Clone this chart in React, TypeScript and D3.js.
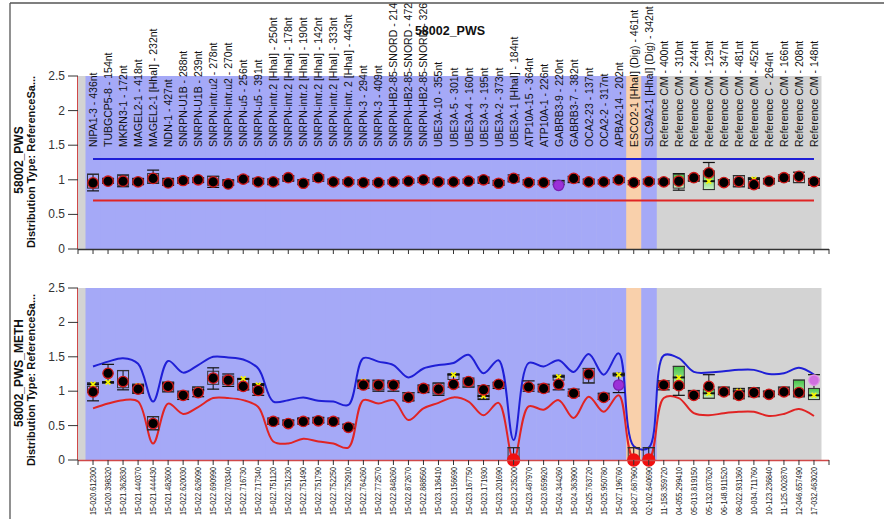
import React from 'react';
import * as d3 from 'd3';

// probe names (top labels) and positions (bottom labels)
const probes = [
  'NIPA1-3 - 436nt', 'TUBGCP5-8 - 154nt', 'MKRN3-1 - 172nt', 'MAGEL2-1 - 418nt', 'MAGEL2-1 [HhaI] - 232nt',
  'NDN-1 - 427nt', 'SNRPN-U1B - 288nt', 'SNRPN-U1B - 239nt', 'SNRPN-intr.u2 - 278nt', 'SNRPN-intr.u2 - 270nt',
  'SNRPN-u5 - 256nt', 'SNRPN-u5 - 391nt', 'SNRPN-intr.2 [HhaI] - 250nt', 'SNRPN-intr.2 [HhaI] - 178nt',
  'SNRPN-intr.2 [HhaI] - 190nt', 'SNRPN-intr.2 [HhaI] - 142nt', 'SNRPN-intr.2 [HhaI] - 333nt',
  'SNRPN-intr. 2 [HhaI] - 443nt', 'SNRPN-3 - 294nt', 'SNRPN-3 - 409nt', 'SNRPN-HB2-85-SNORD - 214',
  'SNRPN-HB2-85-SNORD - 472', 'SNRPN-HB2-85-SNORD - 326', 'UBE3A-10 - 355nt', 'UBE3A-5 - 301nt',
  'UBE3A-4 - 160nt', 'UBE3A-3 - 195nt', 'UBE3A-2 - 373nt', 'UBE3A-1 [HhaI] - 184nt', 'ATP10A-15 - 364nt',
  'ATP10A-1 - 226nt', 'GABRB3-9 - 220nt', 'GABRB3-7 - 382nt', 'OCA2-23 - 137nt', 'OCA2-2 - 317nt',
  'APBA2-14 - 202nt', 'ESCO2-1 [HhaI] (Dig) - 461nt', 'SLC9A2-1 [HhaI] (Dig) - 342nt',
  'Reference C/M - 400nt', 'Reference C/M - 310nt', 'Reference C/M - 244nt', 'Reference C/M - 129nt',
  'Reference C/M - 347nt', 'Reference C/M - 481nt', 'Reference C/M - 452nt', 'Reference C - 264nt',
  'Reference C/M - 166nt', 'Reference C/M - 208nt', 'Reference C/M - 148nt',
];
const positions = [
  '15-020.612300', '15-020.398320', '15-021.362830', '15-021.440370', '15-021.444430', '15-021.482600',
  '15-022.620030', '15-022.626090', '15-022.690990', '15-022.703340', '15-022.716730', '15-022.717340',
  '15-022.751120', '15-022.751230', '15-022.751490', '15-022.751790', '15-022.752250', '15-022.752910',
  '15-022.764260', '15-022.772570', '15-022.848260', '15-022.872670', '15-022.888560', '15-023.136410',
  '15-023.156690', '15-023.167750', '15-023.171930', '15-023.201690', '15-023.235200', '15-023.487970',
  '15-023.659920', '15-024.344260', '15-024.363900', '15-025.763720', '15-025.950780', '15-027.196760',
  '18-027.687960', '02-102.640690', '11-158.359720', '04-055.299410', '05-013.819150', '05-132.037620',
  '06-148.911520', '08-022.931360', '10-034.711760', '10-123.236840', '11-125.002870', '12-046.657490',
  '17-032.463020',
];
// T = target, D = digestion control, R = reference
const probeType = [
  'T', 'T', 'T', 'T', 'T', 'T', 'T', 'T', 'T', 'T', 'T', 'T', 'T', 'T', 'T', 'T', 'T', 'T', 'T', 'T',
  'T', 'T', 'T', 'T', 'T', 'T', 'T', 'T', 'T', 'T', 'T', 'T', 'T', 'T', 'T', 'T', 'D', 'T',
  'R', 'R', 'R', 'R', 'R', 'R', 'R', 'R', 'R', 'R', 'R',
];
const yTicks = [0, 0.5, 1, 1.5, 2, 2.5];

// 58002_PWS
const pwsRatio = [0.955, 0.98, 0.98, 0.97, 1.02, 0.955, 0.99, 1.0, 0.97, 0.94, 1.01, 0.97, 0.97, 1.03, 0.95, 1.03, 0.97, 0.97, 0.96, 0.96,
  0.97, 0.98, 1.0, 0.97, 0.97, 0.98, 1.0, 0.95, 1.02, 0.96, 0.96, 0.92, 1.02, 0.97, 0.97, 1.0, 0.96, 0.975,
  0.97, 0.98, 1.03, 1.10, 0.96, 0.975, 0.93, 0.98, 1.03, 1.05, 0.975];
const pwsBoxLo = [0.88, 0.95, 0.92, 0.94, 0.95, 0.93, 0.96, 0.97, 0.92, 0.93, 0.98, 0.95, 0.94, 0.99, 0.94, 1.0, 0.95, 0.95, 0.94, 0.94,
  0.95, 0.96, 0.97, 0.95, 0.95, 0.96, 0.96, 0.93, 0.98, 0.94, 0.94, 0.95, 0.97, 0.95, 0.95, 0.97, 0.94, 0.95,
  0.95, 0.88, 0.99, 0.86, 0.94, 0.90, 0.88, 0.95, 0.99, 0.96, 0.93];
const pwsBoxHi = [1.08, 1.02, 1.06, 1.01, 1.09, 1.01, 1.03, 1.02, 1.05, 0.99, 1.04, 1.02, 1.01, 1.05, 1.0, 1.05, 1.0, 1.0, 0.99, 0.98,
  0.99, 1.0, 1.02, 1.0, 0.99, 1.0, 1.03, 0.98, 1.04, 0.99, 0.98, 0.98, 1.04, 1.0, 0.99, 1.02, 0.98, 1.0,
  1.0, 1.08, 1.05, 1.13, 1.0, 1.06, 1.03, 1.01, 1.05, 1.06, 1.01];
const pwsWhiskerLo = [0.84, 0.95, 0.90, 0.93, 0.95, 0.92, 0.95, 0.96, 0.89, 0.92, 0.97, 0.94, 0.93, 0.98, 0.93, 0.98, 0.94, 0.94, 0.93, 0.93,
  0.94, 0.95, 0.96, 0.94, 0.94, 0.95, 0.95, 0.92, 0.97, 0.93, 0.93, 0.93, 0.96, 0.94, 0.94, 0.96, 0.93, 0.94,
  0.94, 0.85, 0.98, 0.86, 0.93, 0.90, 0.88, 0.94, 0.98, 0.96, 0.92];
const pwsWhiskerHi = [1.08, 1.02, 1.07, 1.02, 1.14, 1.02, 1.03, 1.03, 1.05, 1.0, 1.05, 1.02, 1.01, 1.06, 1.0, 1.07, 1.01, 1.0, 1.0, 0.99,
  1.0, 1.01, 1.03, 1.01, 1.0, 1.01, 1.04, 0.99, 1.07, 1.0, 0.99, 0.99, 1.05, 1.01, 1.0, 1.03, 0.99, 1.01,
  1.01, 1.09, 1.06, 1.25, 1.0, 1.06, 1.03, 1.02, 1.07, 1.11, 1.02];
const pwsMean: (number | null)[] = [null, null, null, null, null, null, null, null, null, null, null, null, null, null, null, null, null, null, null, null,
  null, null, null, null, null, null, null, null, null, null, null, null, null, null, null, null, null, null,
  null, null, null, 0.98, null, null, 1.01, null, null, null, null];
// n = normal, p = purple, r = red (zero), q = pink
const pwsMarker = ['n', 'n', 'n', 'n', 'n', 'n', 'n', 'n', 'n', 'n', 'n', 'n', 'n', 'n', 'n', 'n', 'n', 'n', 'n', 'n',
  'n', 'n', 'n', 'n', 'n', 'n', 'n', 'n', 'n', 'n', 'n', 'p', 'n', 'n', 'n', 'n', 'n', 'n',
  'n', 'n', 'n', 'n', 'n', 'n', 'n', 'n', 'n', 'n', 'n'];
const pwsGreen = [40, 42];
const pwsUpperLimit = 1.3;
const pwsLowerLimit = 0.7;

// 58002_PWS_METH
const methRatio = [0.99, 1.26, 1.14, 1.03, 0.53, 1.07, 0.94, 0.98, 1.19, 1.16, 1.07, 1.01, 0.56, 0.53, 0.56, 0.57, 0.56, 0.475, 1.09, 1.09,
  1.09, 0.91, 1.04, 1.03, 1.10, 1.14, 1.02, 1.10, 0, 1.06, 1.04, 1.10, 0.97, 1.25, 0.91, 1.09, 0, 0,
  1.09, 1.08, 0.94, 1.07, 0.99, 0.94, 0.98, 0.955, 0.99, 0.98, 1.16];
const methBoxLo = [0.98, 1.12, 1.05, 0.98, 0.44, 1.0, 0.90, 1.0, 1.10, 1.10, 1.02, 0.98, 0.52, 0.51, 0.53, 0.54, 0.52, 0.46, 1.04, 1.02,
  1.05, 0.86, 0.99, 0.96, 1.17, 1.06, 0.89, 1.06, 0, 1.03, 1.0, 1.16, 0.93, 1.12, 0.88, 1.22, 0, 0,
  1.05, 1.04, 0.92, 0.90, 0.96, 0.91, 0.94, 0.93, 0.96, 0.92, 0.88];
const methBoxHi = [1.07, 1.14, 1.30, 1.10, 0.63, 1.13, 0.98, 1.06, 1.29, 1.22, 1.17, 1.10, 0.60, 0.58, 0.60, 0.61, 0.60, 0.52, 1.16, 1.15,
  1.14, 0.98, 1.08, 1.11, 1.25, 1.17, 1.08, 1.12, 0.18, 1.09, 1.10, 1.23, 1.0, 1.33, 0.96, 1.26, 0.18, 0.18,
  1.13, 1.36, 1.0, 1.03, 1.05, 1.03, 1.04, 1.0, 1.05, 1.16, 1.04];
const methWhiskerLo = [0.86, 1.12, 1.02, 0.97, 0.44, 0.99, 0.88, 0.92, 1.03, 1.07, 1.02, 0.94, 0.52, 0.51, 0.52, 0.54, 0.52, 0.46, 1.04, 1.0,
  1.0, 0.86, 0.98, 0.94, 1.06, 1.06, 0.88, 1.04, 0, 1.0, 0.99, 1.02, 0.93, 1.12, 0.88, 0.98, 0, 0,
  1.02, 0.94, 0.90, 0.90, 0.95, 0.89, 0.92, 0.92, 0.95, 0.92, 0.88];
const methWhiskerHi = [1.12, 1.39, 1.30, 1.10, 0.63, 1.13, 1.0, 1.06, 1.34, 1.25, 1.18, 1.11, 0.61, 0.58, 0.61, 0.62, 0.61, 0.52, 1.16, 1.16,
  1.15, 0.98, 1.09, 1.12, 1.25, 1.19, 1.08, 1.13, 0.18, 1.15, 1.10, 1.23, 1.03, 1.33, 0.97, 1.26, 0.18, 0.18,
  1.15, 1.36, 1.01, 1.24, 1.06, 1.04, 1.05, 1.0, 1.06, 1.16, 1.24];
const methMean: (number | null)[] = [1.10, 1.13, null, 1.08, null, 1.11, null, 1.02, null, null, 1.18, 1.09, null, null, 0.60, null, null, null, 1.14, null,
  1.12, null, null, null, 1.24, null, 0.93, null, null, null, null, 1.21, null, null, null, 1.24, null, null,
  null, 1.20, null, 0.97, null, 1.0, null, null, null, 1.0, 0.94];
const methMarker = ['n', 'n', 'n', 'n', 'n', 'n', 'n', 'n', 'n', 'n', 'n', 'n', 'n', 'n', 'n', 'n', 'n', 'n', 'n', 'n',
  'n', 'n', 'n', 'n', 'n', 'n', 'n', 'n', 'r', 'n', 'n', 'n', 'n', 'n', 'n', 'p', 'r', 'r',
  'n', 'n', 'n', 'n', 'n', 'n', 'n', 'n', 'n', 'n', 'q'];
const methGreen = [40, 42, 48, 49];
const methUpper = [1.36, 1.43, 1.48, 1.40, 0.85, 1.44, 1.27, 1.38, 1.50, 1.49, 1.46, 1.33, 0.85, 0.87, 0.91, 0.86, 0.85, 0.80, 1.48, 1.43,
  1.38, 1.20, 1.33, 1.38, 1.41, 1.53, 1.26, 1.45, 0.29, 1.41, 1.36, 1.45, 1.28, 1.54, 1.24, 1.55, 0.20, 0.18,
  1.52, 1.48, 1.28, 1.27, 1.29, 1.31, 1.31, 1.25, 1.26, 1.34, 1.24];
const methLower = [0.75, 0.82, 0.87, 0.85, 0.24, 0.82, 0.67, 0.77, 0.90, 0.90, 0.87, 0.77, 0.27, 0.24, 0.31, 0.27, 0.24, 0.18, 0.87, 0.82,
  0.87, 0.58, 0.75, 0.83, 0.91, 0.85, 0.65, 0.83, 0, 0.78, 0.73, 0.87, 0.61, 0.92, 0.70, 0.94, 0, 0,
  0.90, 0.90, 0.68, 0.65, 0.68, 0.70, 0.70, 0.64, 0.67, 0.74, 0.64];

const FONT = 'Arial, "Liberation Sans", sans-serif';
const x = d3.scaleLinear().domain([0, 50]).range([78, 829]);

const dotFill: Record<string, string> = { n: '#000', p: '#9b30d8', r: '#f01010', q: '#d070e0' };
const dotStroke: Record<string, string> = { n: '#d01818', p: '#7a20b0', r: '#f01010', q: '#e090e8' };

function Panel(props: any) {
  const { id, top, bottom, ratio, boxLo, boxHi, whLo, whHi, mean, marker, green, upper, lower, axisColor } = props;
  const y = d3.scaleLinear().domain([0, 2.5]).range([bottom, top]);
  const line = d3.line<number>().x((d, i) => x(i + 1)).y((d) => y(d)).curve(d3.curveCatmullRom.alpha(0.5));
  const flat = d3.line<number>().x((d) => x(d)).y(() => 0);
  const bw = 5.5;
  return (
    <g>
      <defs>
        <clipPath id={`clip-${id}`}>
          <rect x={x(0)} y={top} width={x(50) - x(0)} height={bottom - top} />
        </clipPath>
      </defs>
      <rect x={x(0)} y={top} width={x(49.5) - x(0)} height={bottom - top} fill="#d3d3d3" />
      {probeType.map((t, i) =>
        t === 'R' ? null : (
          <rect key={i} x={x(i + 0.5)} y={top} width={x(i + 1.5) - x(i + 0.5) + 0.5} height={bottom - top}
            fill={t === 'D' ? '#f9d0ab' : '#a5a9f7'} />
        ))}
      <g clipPath={`url(#clip-${id})`}>
        {upper.length > 1 ? (
          <>
            <path d={line(upper) || ''} fill="none" stroke="#1f1fd6" strokeWidth={2} />
            <path d={line(lower) || ''} fill="none" stroke="#e02424" strokeWidth={2} />
          </>
        ) : (
          <>
            <path d={flat([1, 49]) || ''} transform={`translate(0,${y(upper[0])})`} fill="none" stroke="#1f1fd6" strokeWidth={2} />
            <path d={flat([1, 49]) || ''} transform={`translate(0,${y(lower[0])})`} fill="none" stroke="#e02424" strokeWidth={2} />
          </>
        )}
      </g>
      {ratio.map((v: number, i: number) => {
        const cx = x(i + 1);
        const isGreen = green.includes(i + 1);
        return (
          <g key={i}>
            <line x1={cx} x2={cx} y1={y(whLo[i])} y2={y(whHi[i])} stroke="#111" strokeWidth={1} />
            <line x1={cx - 6} x2={cx + 6} y1={y(whLo[i])} y2={y(whLo[i])} stroke="#111" strokeWidth={1.2} />
            <line x1={cx - 6} x2={cx + 6} y1={y(whHi[i])} y2={y(whHi[i])} stroke="#111" strokeWidth={1.2} />
            <rect x={cx - bw} y={y(boxHi[i])} width={bw * 2} height={Math.max(1, y(boxLo[i]) - y(boxHi[i]))}
              fill={isGreen ? `url(#green-grad)` : 'none'} stroke="#333" strokeWidth={1} />
            {mean[i] != null && (
              <g>
                <line x1={cx - 6} x2={cx + 6} y1={y(mean[i])} y2={y(mean[i])} stroke="#111" strokeWidth={2} />
                <path d={d3.symbol(d3.symbolX, 16)() || ''} transform={`translate(${cx},${y(mean[i])})`}
                  stroke="#f5f500" strokeWidth={1.8} fill="none" />
              </g>
            )}
            <circle cx={cx} cy={y(v)} r={marker[i] === 'r' ? 6 : 5.2} fill={dotFill[marker[i]]}
              stroke={dotStroke[marker[i]]} strokeWidth={1.3} />
          </g>
        );
      })}
      {/* axes */}
      <line x1={x(0) - 0.5} x2={x(0) - 0.5} y1={top} y2={bottom} stroke="#d04848" strokeWidth={1} />
      <line x1={x(0)} x2={x(50)} y1={bottom + 0.5} y2={bottom + 0.5} stroke={axisColor} strokeWidth={1.3} />
      {d3.range(0, 51).map((t) => (
        <line key={t} x1={x(t)} x2={x(t)} y1={bottom} y2={bottom + 5} stroke="#333" strokeWidth={1} />
      ))}
      {yTicks.map((t) => (
        <g key={t}>
          <line x1={x(0) - 10} x2={x(0)} y1={y(t)} y2={y(t)} stroke="#333" strokeWidth={1} />
          <text x={x(0) - 13} y={y(t) + 4} textAnchor="end" fontSize={12} fontFamily={FONT} fill="#333">{t}</text>
        </g>
      ))}
    </g>
  );
}

export default function App() {
  return (
    <svg width={884} height={519} style={{ position: 'absolute', left: 0, top: 0, background: '#fff' }}>
      <defs>
        <linearGradient id="green-grad" x1="0" y1="0" x2="0" y2="1">
          <stop offset="0" stopColor="#46c646" />
          <stop offset="1" stopColor="#cdf2c4" />
        </linearGradient>
      </defs>
      <rect width={884} height={519} fill="#fff" />
      <line x1={10} x2={884} y1={3} y2={3} stroke="#555" strokeWidth={1.3} />
      <line x1={10} x2={10} y1={3} y2={519} stroke="#555" strokeWidth={1.3} />

      <Panel id="pws" top={76} bottom={249} ratio={pwsRatio} boxLo={pwsBoxLo} boxHi={pwsBoxHi}
        whLo={pwsWhiskerLo} whHi={pwsWhiskerHi} mean={pwsMean} marker={pwsMarker} green={pwsGreen}
        upper={[pwsUpperLimit]} lower={[pwsLowerLimit]} axisColor="#333" />
      <Panel id="meth" top={288} bottom={460} ratio={methRatio} boxLo={methBoxLo} boxHi={methBoxHi}
        whLo={methWhiskerLo} whHi={methWhiskerHi} mean={methMean} marker={methMarker} green={methGreen}
        upper={methUpper} lower={methLower} axisColor="#d04848" />

      {/* probe labels */}
      {probes.map((p, i) => (
        <text key={p + i} transform={`translate(${x(i + 1) + 4},147) rotate(-90)`} fontSize={10.5}
          fontFamily={FONT} fill="#111">{p}</text>
      ))}
      {positions.map((p, i) => (
        <text key={p + i} transform={`translate(${x(i + 1) + 3},467) rotate(-90)`} fontSize={9}
          textAnchor="end" textLength={48} lengthAdjust="spacingAndGlyphs" fontFamily={FONT} fill="#222">{p}</text>
      ))}

      <text x={450} y={35} textAnchor="middle" fontSize={12.5} fontWeight="bold" fontFamily={FONT} fill="#111">58002_PWS</text>

      <g fontFamily={FONT} fontWeight="bold" fill="#111" textAnchor="middle">
        <text transform="translate(23,160) rotate(-90)" fontSize={12}>58002_PWS</text>
        <text transform="translate(35,162) rotate(-90)" fontSize={11}>Distribution Type: ReferenceSa...</text>
        <text transform="translate(23,373) rotate(-90)" fontSize={12}>58002_PWS_METH</text>
        <text transform="translate(35,380) rotate(-90)" fontSize={11}>Distribution Type: ReferenceSa...</text>
      </g>
    </svg>
  );
}
